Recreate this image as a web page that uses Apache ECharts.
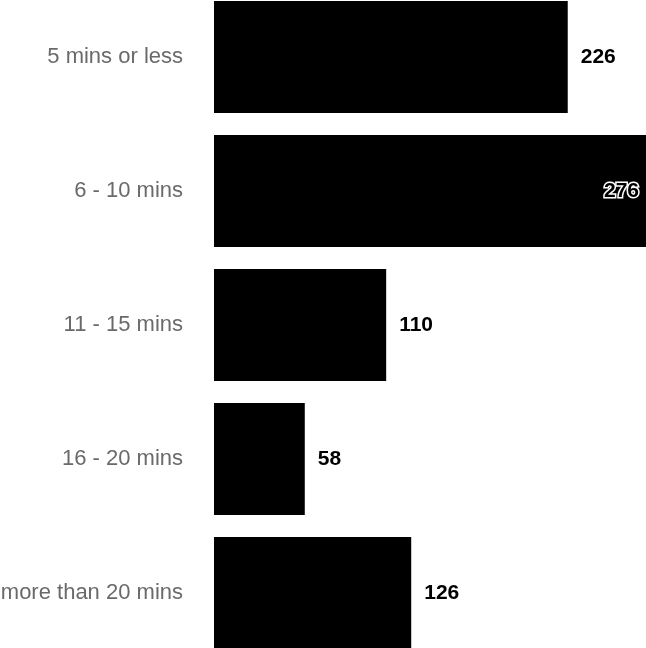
<!DOCTYPE html>
<html>
<head>
<meta charset="utf-8">
<script src="https://cdn.jsdelivr.net/npm/echarts@6/dist/echarts.min.js"></script>
<style>html,body{margin:0;padding:0;background:#fff;overflow:hidden;}#c{width:646px;height:648px;}</style>
</head>
<body>
<div id="c"></div>
<script>
var categories = ["5 mins or less", "6 - 10 mins", "11 - 15 mins", "16 - 20 mins", "more than 20 mins"];
var values = [226, 276, 110, 58, 126];

var chart = echarts.init(document.getElementById('c'), null, {renderer: 'canvas'});
var data = values.map(function (v, i) {
  var item = {value: v};
  if (v === Math.max.apply(null, values)) {
    item.label = {
      position: 'insideRight',
      distance: 7,
      color: '#000',
      textBorderColor: '#fff',
      textBorderWidth: 3
    };
  }
  return item;
});
chart.setOption({
  animation: false,
  grid: {left: 214, right: 0, top: -10, bottom: -12, containLabel: false, outerBoundsMode: 'none'},
  xAxis: {
    type: 'value', min: 0, max: 276, show: false
  },
  yAxis: {
    type: 'category',
    data: categories,
    inverse: true,
    axisLine: {show: false},
    axisTick: {show: false},
    splitLine: {show: false},
    axisLabel: {
      margin: 31,
      color: '#6a6a6a',
      fontSize: 22,
      fontFamily: 'Liberation Sans, Arial, sans-serif'
    }
  },
  series: [{
    type: 'bar',
    data: data,
    barCategoryGap: '16.4%',
    itemStyle: {color: '#000'},
    label: {
      show: true,
      position: 'right',
      distance: 13,
      color: '#000',
      fontSize: 21,
      fontWeight: 'bold',
      fontFamily: 'Liberation Sans, Arial, sans-serif'
    }
  }]
});
</script>
</body>
</html>
